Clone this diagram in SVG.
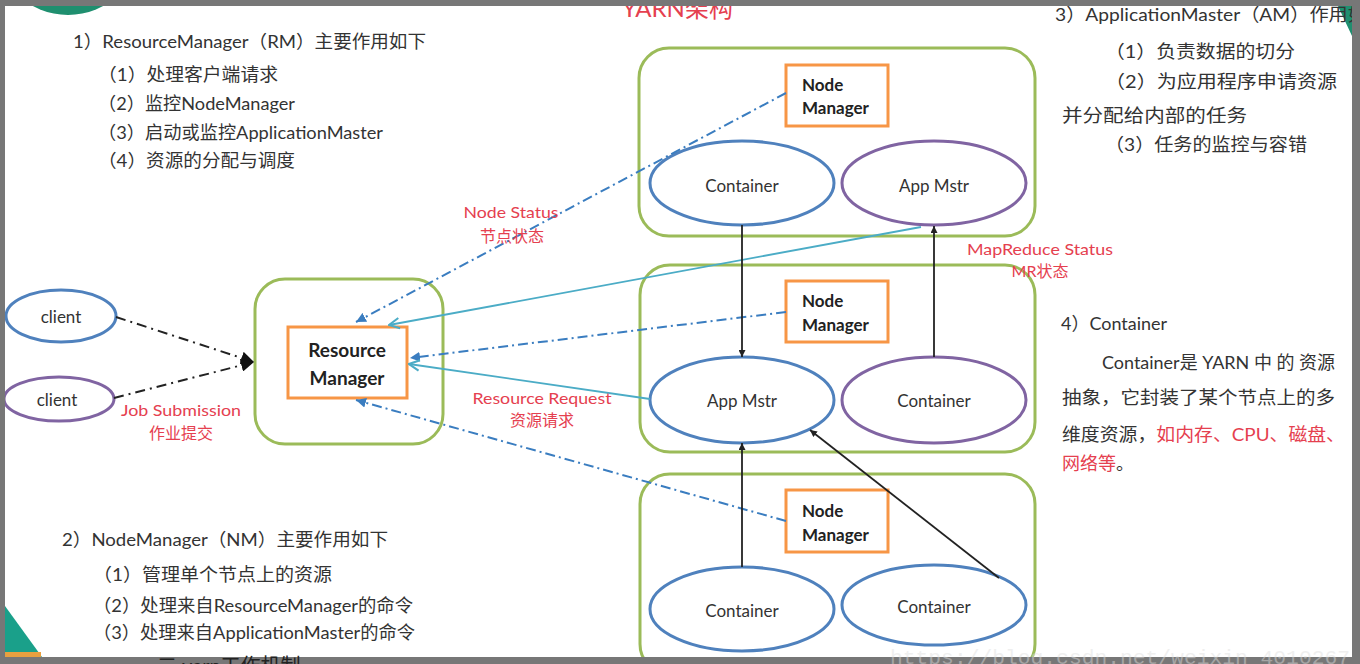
<svg xmlns="http://www.w3.org/2000/svg" width="1360" height="664" viewBox="0 0 1360 664">
<style>
.t{font-family:Lato,"Noto Sans CJK SC",sans-serif;font-size:18px;fill:#333}
.r{font-family:Lato,"Noto Sans CJK SC",sans-serif;font-size:16px;fill:#e5404f}
.n{font-family:Lato,"Noto Sans CJK SC",sans-serif;font-size:17px;fill:#333;text-anchor:middle}
.b{font-family:Lato,"Noto Sans CJK SC",sans-serif;font-weight:bold;fill:#222}
.grp{fill:#fff;stroke:#9bbb59;stroke-width:3}
.org{fill:#fff;stroke:#f79646;stroke-width:3}
.be{fill:#fff;stroke:#4f81bd;stroke-width:3}
.pe{fill:#fff;stroke:#8064a2;stroke-width:3}
.blk{stroke:#222;stroke-width:1.8;fill:none}
.bdd{stroke:#3a7dc0;stroke-width:2;fill:none;stroke-dasharray:10 4 2 4}
.kdd{stroke:#222;stroke-width:2;fill:none;stroke-dasharray:10 5 2 5}
.teal{stroke:#4bacc6;stroke-width:1.8;fill:none}
</style>
<defs>
<marker id="ak" viewBox="0 0 10 10" refX="10" refY="5" markerWidth="7" markerHeight="7" orient="auto" markerUnits="userSpaceOnUse"><path d="M0,0L10,5L0,10z" fill="#222"/></marker>
<marker id="akb" viewBox="0 0 10 10" refX="10" refY="5" markerWidth="13" markerHeight="13" orient="auto" markerUnits="userSpaceOnUse"><path d="M0,0L10,5L0,10z" fill="#111"/></marker>
<marker id="ab" viewBox="0 0 10 10" refX="10" refY="5" markerWidth="10" markerHeight="10" orient="auto" markerUnits="userSpaceOnUse"><path d="M0,0L10,5L0,10z" fill="#3a7dc0"/></marker>
<marker id="at" viewBox="0 0 10 10" refX="9" refY="5" markerWidth="13" markerHeight="13" orient="auto" markerUnits="userSpaceOnUse"><path d="M1,1L9,5L1,9" fill="none" stroke="#4bacc6" stroke-width="1.6"/></marker>
</defs>
<rect x="0" y="0" width="1360" height="664" fill="#fff"/>
<!-- decorations -->
<circle cx="68" cy="-58" r="73" fill="#1f8f6f"/>
<polygon points="1338,6 1352,6 1352,36" fill="#1f8f6f"/>
<polygon points="5,606 42,657 5,657" fill="#1aa08a"/>
<rect x="5" y="652" width="36" height="5" fill="#e8a040"/>
<!-- title -->
<text x="622" y="17" font-family="Lato,'Noto Sans CJK SC',sans-serif" font-size="24" fill="#e5404f">YARN架构</text>
<!-- left text -->
<g id="rm-text">
<text class="t" x="73" y="48" textLength="353" lengthAdjust="spacingAndGlyphs">1）ResourceManager（RM）主要作用如下</text>
<text class="t" x="98" y="81" textLength="180" lengthAdjust="spacingAndGlyphs">（1）处理客户端请求</text>
<text class="t" x="98" y="110" textLength="197" lengthAdjust="spacingAndGlyphs">（2）监控NodeManager</text>
<text class="t" x="98" y="139" textLength="285" lengthAdjust="spacingAndGlyphs">（3）启动或监控ApplicationMaster</text>
<text class="t" x="98" y="167" textLength="197" lengthAdjust="spacingAndGlyphs">（4）资源的分配与调度</text>
</g>
<g id="am-text">
<text class="t" x="1055" y="21" textLength="312" lengthAdjust="spacingAndGlyphs">3）ApplicationMaster（AM）作用如</text>
<text class="t" x="1105" y="58" textLength="190" lengthAdjust="spacingAndGlyphs">（1）负责数据的切分</text>
<text class="t" x="1105" y="88" textLength="232" lengthAdjust="spacingAndGlyphs">（2）为应用程序申请资源</text>
<text class="t" x="1062" y="122" textLength="185" lengthAdjust="spacingAndGlyphs">并分配给内部的任务</text>
<text class="t" x="1105" y="151" textLength="202" lengthAdjust="spacingAndGlyphs">（3）任务的监控与容错</text>
</g>
<g id="container-text">
<text class="t" x="1061" y="330" textLength="106" lengthAdjust="spacingAndGlyphs">4）Container</text>
<text class="t" x="1102" y="369" textLength="233" lengthAdjust="spacingAndGlyphs">Container是 YARN 中 的 资源</text>
<text class="t" x="1062" y="404" textLength="273" lengthAdjust="spacingAndGlyphs">抽象，它封装了某个节点上的多</text>
<text class="t" x="1062" y="441" textLength="283" lengthAdjust="spacingAndGlyphs">维度资源，<tspan fill="#e5404f">如内存、CPU、磁盘、</tspan></text>
<text class="t" x="1062" y="470"><tspan fill="#e5404f">网络等</tspan>。</text>
</g>
<g id="nm-text">
<text class="t" x="62" y="546" textLength="326" lengthAdjust="spacingAndGlyphs">2）NodeManager（NM）主要作用如下</text>
<text class="t" x="93" y="581" textLength="239" lengthAdjust="spacingAndGlyphs">（1）管理单个节点上的资源</text>
<text class="t" x="93" y="612" textLength="320" lengthAdjust="spacingAndGlyphs">（2）处理来自ResourceManager的命令</text>
<text class="t" x="93" y="639" textLength="322" lengthAdjust="spacingAndGlyphs">（3）处理来自ApplicationMaster的命令</text>
</g>
<!-- containers groups -->
<g id="rm-group"><rect class="grp" x="255" y="279" width="188" height="165" rx="30"/></g>
<g id="node1"><rect class="grp" x="639" y="48" width="396" height="188" rx="30"/></g>
<g id="node2"><rect class="grp" x="640" y="265" width="395" height="187" rx="30"/></g>
<g id="node3"><rect class="grp" x="640" y="474" width="395" height="200" rx="30"/></g>
<!-- nodes -->
<g id="client1"><ellipse class="be" cx="61" cy="316" rx="55" ry="26"/><text class="n" x="61" y="323" font-size="16">client</text></g>
<g id="client2"><ellipse class="pe" cx="59" cy="399" rx="55" ry="22"/><text class="n" x="57" y="406" font-size="16">client</text></g>
<g id="rm"><rect class="org" x="288" y="327" width="119" height="71"/><text class="b" x="347" y="357" font-size="19" text-anchor="middle">Resource</text><text class="b" x="347" y="385" font-size="19" text-anchor="middle">Manager</text></g>
<g id="nm1"><rect class="org" x="786" y="65" width="102" height="61"/><text class="b" x="802" y="91" font-size="17">Node</text><text class="b" x="802" y="114" font-size="17">Manager</text></g>
<g id="nm2"><rect class="org" x="786" y="281" width="102" height="61"/><text class="b" x="802" y="307" font-size="17">Node</text><text class="b" x="802" y="331" font-size="17">Manager</text></g>
<g id="nm3"><rect class="org" x="786" y="490" width="102" height="62"/><text class="b" x="802" y="517" font-size="17">Node</text><text class="b" x="802" y="541" font-size="17">Manager</text></g>
<g id="c1"><ellipse class="be" cx="742" cy="183" rx="92" ry="42"/><text class="n" x="742" y="192">Container</text></g>
<g id="am1"><ellipse class="pe" cx="934" cy="183" rx="92" ry="42"/><text class="n" x="934" y="192">App Mstr</text></g>
<g id="am2"><ellipse class="be" cx="742" cy="400" rx="92" ry="43"/><text class="n" x="742" y="407">App Mstr</text></g>
<g id="c2"><ellipse class="pe" cx="934" cy="400" rx="92" ry="43"/><text class="n" x="934" y="407">Container</text></g>
<g id="c3"><ellipse class="be" cx="742" cy="609" rx="92" ry="42"/><text class="n" x="742" y="617">Container</text></g>
<g id="c4"><ellipse class="be" cx="934" cy="605" rx="92" ry="40"/><text class="n" x="934" y="613">Container</text></g>
<!-- connectors -->
<g id="connectors">
<line class="kdd" x1="116" y1="317" x2="254" y2="362" marker-end="url(#akb)"/>
<line class="kdd" x1="114" y1="398" x2="254" y2="362" marker-end="url(#akb)"/>
<line class="bdd" x1="786" y1="93" x2="356" y2="322" marker-end="url(#ab)"/>
<line class="bdd" x1="786" y1="312" x2="410" y2="358" marker-end="url(#ab)"/>
<line class="bdd" x1="786" y1="521" x2="356" y2="400" marker-end="url(#ab)"/>
<line class="teal" x1="921" y1="227" x2="389" y2="325" marker-end="url(#at)"/>
<line class="teal" x1="650" y1="399" x2="409" y2="364" marker-end="url(#at)"/>
<line class="blk" x1="742" y1="225" x2="742" y2="357" marker-end="url(#ak)"/>
<line class="blk" x1="934" y1="357" x2="934" y2="226" marker-end="url(#ak)"/>
<line class="blk" x1="742" y1="567" x2="742" y2="443" marker-end="url(#ak)"/>
<line class="blk" x1="999" y1="578" x2="810" y2="430" marker-end="url(#ak)"/>
</g>
<!-- labels -->
<g id="labels">
<text class="r" x="511" y="218" text-anchor="middle" textLength="95" lengthAdjust="spacingAndGlyphs">Node Status</text>
<text class="r" x="512" y="242" text-anchor="middle">节点状态</text>
<text class="r" x="542" y="404" text-anchor="middle" textLength="139" lengthAdjust="spacingAndGlyphs">Resource Request</text>
<text class="r" x="542" y="426" text-anchor="middle">资源请求</text>
<text class="r" x="1040" y="255" text-anchor="middle" textLength="146" lengthAdjust="spacingAndGlyphs">MapReduce Status</text>
<text class="r" x="1040" y="277" text-anchor="middle">MR状态</text>
<text class="r" x="181" y="416" text-anchor="middle" textLength="120" lengthAdjust="spacingAndGlyphs">Job Submission</text>
<text class="r" x="181" y="439" text-anchor="middle">作业提交</text>
</g>
<!-- frame -->
<path d="M0,0H1360V664H0Z M5,6V657H1352V6Z" fill="#777" fill-rule="evenodd"/>
<text x="890" y="664" font-family="'Liberation Mono',monospace" font-size="20" fill="#ddd" opacity="0.45" textLength="460" lengthAdjust="spacingAndGlyphs">https://blog.csdn.net/weixin_4010267</text>
<text x="157" y="673" font-family="Lato,'Noto Sans CJK SC',sans-serif" font-size="20" fill="#222">二    yarn工作机制</text>
</svg>
